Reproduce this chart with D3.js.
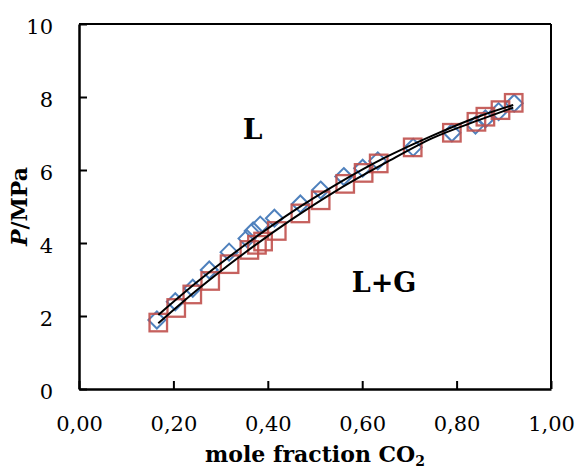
<!DOCTYPE html>
<html><head><meta charset="utf-8">
<script src="https://cdn.jsdelivr.net/npm/d3@7"></script>
<style>body{margin:0;background:#fff}</style>
</head><body>
<script>
// Data
const blueX = [0.165,0.204,0.241,0.276,0.318,0.356,0.369,0.384,0.414,0.469,0.512,0.561,0.601,0.633,0.708,0.790,0.840,0.861,0.889,0.922];
const blueP = [1.89,2.39,2.76,3.26,3.75,4.12,4.33,4.49,4.68,5.07,5.45,5.82,6.05,6.25,6.62,7.02,7.23,7.40,7.60,7.83];
const redX  = [0.168,0.206,0.240,0.278,0.319,0.361,0.377,0.390,0.419,0.469,0.512,0.564,0.603,0.635,0.707,0.790,0.842,0.861,0.893,0.921];
const redP  = [1.82,2.22,2.59,2.96,3.42,3.81,3.95,4.04,4.33,4.81,5.17,5.62,5.92,6.18,6.62,7.02,7.32,7.46,7.64,7.84];
const fitX      = [0.168,0.25,0.35,0.45,0.55,0.65,0.75,0.85,0.92];
const fitUpperP = [2.03,2.93,3.93,4.84,5.64,6.35,6.95,7.48,7.78];
const fitLowerP = [1.80,2.71,3.72,4.64,5.47,6.20,6.88,7.38,7.71];
const xTicks = [0,0.2,0.4,0.6,0.8,1.0];
const xTickLabels = ["0,00","0,20","0,40","0,60","0,80","1,00"];
const yTicks = [0,2,4,6,8,10];
const yTickLabels = ["0","2","4","6","8","10"];

const W = 578, H = 470;
const L = 79, R = 551, T = 24, B = 389;
const font = "'DejaVu Serif', serif";

const svg = d3.select("body").append("svg").attr("width", W).attr("height", H);
const x = d3.scaleLinear().domain([0,1]).range([L,R]);
const y = d3.scaleLinear().domain([0,10]).range([B,T]);

// frame top/right
svg.append("line").attr("x1",L).attr("x2",R).attr("y1",T).attr("y2",T).attr("stroke","#000").attr("stroke-width",2);
svg.append("line").attr("x1",R).attr("x2",R).attr("y1",T).attr("y2",B).attr("stroke","#000").attr("stroke-width",2);

const xa = svg.append("g").attr("transform",`translate(0,${B})`)
  .call(d3.axisBottom(x).tickValues(xTicks).tickSizeInner(-8).tickSizeOuter(0)
    .tickFormat((d,i)=>xTickLabels[i]));
xa.selectAll("text").attr("y",42).attr("dy",0).style("font-family",font).style("font-size","21px").attr("fill","#000");
const ya = svg.append("g").attr("transform",`translate(${L},0)`)
  .call(d3.axisLeft(y).tickValues(yTicks).tickSizeInner(-8).tickSizeOuter(0)
    .tickFormat((d,i)=>yTickLabels[i]));
ya.selectAll("text").attr("x",-26).attr("dy",9).style("font-family",font).style("font-size","21px").attr("fill","#000");
[xa,ya].forEach(g=>{
  g.select(".domain").attr("stroke","#000").attr("stroke-width",2.5);
  g.selectAll(".tick line").attr("stroke","#000").attr("stroke-width",2);
});

// markers
const blue = d3.range(blueX.length).map(i=>[blueX[i],blueP[i]]);
const red = d3.range(redX.length).map(i=>[redX[i],redP[i]]);
const dh = 8.5;
svg.append("g").selectAll("path").data(blue).join("path")
  .attr("d", `M0,${-dh}L${dh},0L0,${dh}L${-dh},0Z`)
  .attr("transform", d=>`translate(${x(d[0])},${y(d[1])})`)
  .attr("fill","none").attr("stroke","#4F81BD").attr("stroke-width",2);
svg.append("g").selectAll("rect").data(red).join("rect")
  .attr("x", d=>x(d[0])-8.75).attr("y", d=>y(d[1])-8.75)
  .attr("width",17.5).attr("height",17.5)
  .attr("fill","none").attr("stroke","#C0504D").attr("stroke-width",2.3).attr("stroke-opacity",0.9);

// fit lines
const line = d3.line().x(d=>x(d[0])).y(d=>y(d[1])).curve(d3.curveMonotoneX);
svg.append("path").datum(fitX.map((v,i)=>[v,fitUpperP[i]])).attr("d",line)
  .attr("fill","none").attr("stroke","#000").attr("stroke-width",2);
svg.append("path").datum(fitX.map((v,i)=>[v,fitLowerP[i]])).attr("d",line)
  .attr("fill","none").attr("stroke","#000").attr("stroke-width",2);

// region labels
svg.append("text").attr("x",252.5).attr("y",139).attr("text-anchor","middle")
  .style("font-family",font).style("font-weight","bold").style("font-size","28px").text("L");
svg.append("text").attr("x",384).attr("y",292).attr("text-anchor","middle")
  .style("font-family",font).style("font-weight","bold").style("font-size","27px").text("L+G");

// axis titles
const xt = svg.append("text").attr("x",315).attr("y",462).attr("text-anchor","middle")
  .style("font-family",font).style("font-weight","bold").style("font-size","22px");
xt.append("tspan").text("mole fraction CO");
xt.append("tspan").attr("dy",4).style("font-size","14px").text("2");

const yt = svg.append("text").attr("transform","translate(27,206.5) rotate(-90)").attr("text-anchor","middle")
  .style("font-family",font).style("font-weight","bold").style("font-size","22px");
yt.append("tspan").style("font-style","italic").text("P");
yt.append("tspan").text("/MPa");
</script>
</body></html>
